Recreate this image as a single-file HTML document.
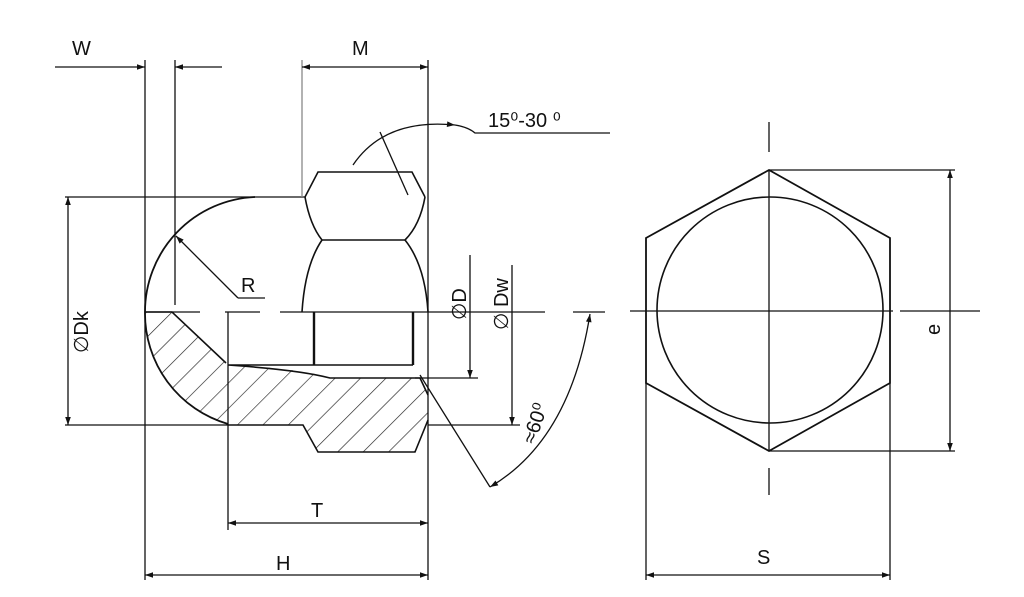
<!DOCTYPE html>
<html><head><meta charset="utf-8"><style>
html,body{margin:0;padding:0;background:#fff}
svg{display:block}
text{font-family:"Liberation Sans",sans-serif;fill:#111}
</style></head><body>
<svg width="1024" height="597" viewBox="0 0 1024 597" xmlns="http://www.w3.org/2000/svg">
<defs>
<marker id="a" viewBox="0 0 10 10" refX="10" refY="5" markerWidth="18" markerHeight="8" markerUnits="userSpaceOnUse" orient="auto-start-reverse"><path d="M0,1.5 L10,5 L0,8.5 z" fill="#111"/></marker>
<pattern id="h" patternUnits="userSpaceOnUse" width="18" height="18" patternTransform="rotate(45)"><line x1="0" y1="0" x2="0" y2="18" stroke="#222" stroke-width="1.3"/></pattern>
</defs>
<g stroke="#111" fill="none" stroke-width="1.6">
<!-- hatched section -->
<path d="M145,312 L172,312 L226,363 L228,365 Q300,368 330,378 L420,378 L428,395 L428,420 L415,452 L318,452 L303,425 L228,425 A115,115 0 0 1 145,312 Z" fill="url(#h)" stroke="none"/>
<path d="M145,312 L172,312 L226,363 M228,365 L413,365 M228,365 Q300,370 330,378 L420,378 L428,395 M428,420 L415,452 L318,452 L303,425 L228,425"/>
<!-- dome -->
<path d="M255,197 A115,115 0 0 0 145,312 A115,115 0 0 0 228,424" stroke-width="1.8"/>
<line x1="65" y1="197" x2="305" y2="197" stroke-width="1.3"/>
<!-- hex side -->
<path d="M305,197 L318,172 L412,172 L425,197"/>
<path d="M305,197 Q310,225 322,240 L405,240 Q420,225 425,197"/>
<path d="M322,240 Q305,265 302,312 M405,240 Q425,265 428,312"/>
<line x1="314" y1="312" x2="314" y2="365" stroke-width="2.4"/>
<line x1="413" y1="312" x2="413" y2="365" stroke-width="2.4"/>
<line x1="228" y1="312" x2="228" y2="530" stroke-width="1.3"/>
<g stroke-width="1.3">
<line x1="145" y1="60" x2="145" y2="580"/>
<line x1="175" y1="60" x2="175" y2="305"/>
<line x1="302" y1="60" x2="302" y2="197" stroke="#888"/>
<line x1="428" y1="60" x2="428" y2="580"/>
<line x1="65" y1="425" x2="228" y2="425"/>
<line x1="428" y1="425" x2="520" y2="425"/>
<line x1="415" y1="378" x2="478" y2="378"/>
<path d="M145,312 H200 M225,312 H260 M280,312 H545 M573,312 H605"/>
</g>
<g stroke-width="1.3">
<line x1="55" y1="67" x2="145" y2="67" marker-end="url(#a)"/>
<line x1="222" y1="67" x2="175" y2="67" marker-end="url(#a)"/>
<line x1="302" y1="67" x2="428" y2="67" marker-start="url(#a)" marker-end="url(#a)"/>
<line x1="68" y1="197" x2="68" y2="425" marker-start="url(#a)" marker-end="url(#a)"/>
<line x1="470" y1="255" x2="470" y2="378" marker-end="url(#a)"/>
<line x1="512" y1="265" x2="512" y2="425" marker-end="url(#a)"/>
<line x1="228" y1="523" x2="428" y2="523" marker-start="url(#a)" marker-end="url(#a)"/>
<line x1="145" y1="575" x2="428" y2="575" marker-start="url(#a)" marker-end="url(#a)"/>
<line x1="238" y1="298" x2="176" y2="236" marker-end="url(#a)"/>
<line x1="238" y1="298" x2="265" y2="298"/>
<path d="M353,165 Q385,118 455,125" marker-end="url(#a)"/>
<path d="M380,132 L408,195"/>
<path d="M455,125 Q468,127 475,133 H610"/>
<path d="M590,314 Q570,440 490,487" marker-start="url(#a)" marker-end="url(#a)"/>
<line x1="420" y1="375" x2="490" y2="487"/>
</g>
<path d="M769,170 L890,238 L890,383 L769,451 L646,383 L646,238 Z" stroke-width="1.8"/>
<circle cx="770" cy="310" r="113" stroke-width="1.6"/>
<g stroke-width="1.3">
<path d="M769,122 V152 M769,170 V451 M769,468 V495"/>
<path d="M630,311 H893 M900,311 H980"/>
<line x1="769" y1="170" x2="955" y2="170"/>
<line x1="769" y1="451" x2="955" y2="451"/>
<line x1="950" y1="170" x2="950" y2="451" marker-start="url(#a)" marker-end="url(#a)"/>
<line x1="646" y1="383" x2="646" y2="580"/>
<line x1="890" y1="383" x2="890" y2="580"/>
<line x1="646" y1="575" x2="890" y2="575" marker-start="url(#a)" marker-end="url(#a)"/>
</g>
</g>
<g font-size="20">
<text x="72" y="55">W</text>
<text x="352" y="55">M</text>
<text x="241" y="292">R</text>
<text x="311" y="517">T</text>
<text x="276" y="570">H</text>
<text x="757" y="564">S</text>
<text x="488" y="127">15⁰-30 ⁰</text>
<text transform="translate(88,353) rotate(-90)">∅Dk</text>
<text transform="translate(466,320) rotate(-90)">∅D</text>
<text transform="translate(508,330) rotate(-90)">∅ Dw</text>
<text transform="translate(940,335) rotate(-90)">e</text>
<text transform="translate(535,445) rotate(-72)">≈60⁰</text>
</g>
</svg>
</body></html>
